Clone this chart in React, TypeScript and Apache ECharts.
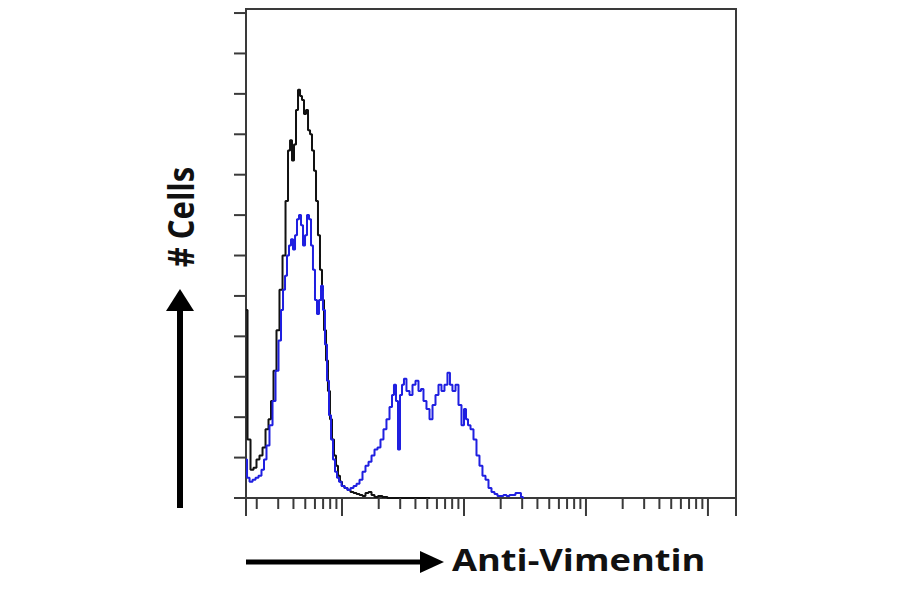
import React, { useEffect, useRef } from "react";
import * as echarts from "echarts";

// x values are log10(fluorescence intensity); y values are cell counts
const X_MIN = 0.213;
const X_MAX = 4.23;
const Y_MAX = 242;
const Y_TICKS = [0, 20, 40, 60, 80, 100, 120, 140, 160, 180, 200, 220, 240];
const X_DECADES = [0, 1, 2, 3, 4];

const controlX = [0.213, 0.238, 0.262, 0.287, 0.311, 0.336, 0.361, 0.385, 0.41, 0.426, 0.451, 0.475, 0.5, 0.525, 0.549, 0.566, 0.582, 0.598, 0.615, 0.631, 0.648, 0.664, 0.68, 0.697, 0.713, 0.73, 0.746, 0.762, 0.779, 0.795, 0.811, 0.828, 0.844, 0.861, 0.877, 0.893, 0.91, 0.926, 0.943, 0.959, 0.975, 0.992, 1.008, 1.033, 1.057, 1.082, 1.107, 1.131, 1.156, 1.18, 1.205, 1.23, 1.254, 1.279, 1.311, 1.352, 1.393, 1.721];
const controlY = [93, 29, 14, 15, 19, 21, 25, 34, 39, 48, 63, 83, 103, 120, 147, 172, 177, 167, 175, 192, 202, 199, 197, 190, 192, 182, 180, 172, 162, 147, 130, 113, 98, 83, 68, 53, 39, 29, 21, 16, 11, 8, 6, 5, 4, 3, 2.5, 2, 1.5, 1, 2.5, 3, 1.5, 0.5, 1, 0.5, 0, 0];

const vimentinX = [0.213, 0.23, 0.254, 0.279, 0.303, 0.328, 0.352, 0.369, 0.393, 0.418, 0.443, 0.467, 0.492, 0.508, 0.525, 0.541, 0.557, 0.574, 0.59, 0.607, 0.623, 0.639, 0.656, 0.672, 0.689, 0.705, 0.721, 0.738, 0.754, 0.77, 0.787, 0.803, 0.82, 0.836, 0.852, 0.869, 0.885, 0.902, 0.918, 0.934, 0.951, 0.967, 0.984, 1.008, 1.033, 1.057, 1.082, 1.107, 1.131, 1.156, 1.18, 1.205, 1.23, 1.254, 1.279, 1.303, 1.328, 1.352, 1.377, 1.402, 1.418, 1.434, 1.451, 1.467, 1.484, 1.5, 1.516, 1.541, 1.566, 1.59, 1.615, 1.639, 1.656, 1.68, 1.705, 1.73, 1.754, 1.779, 1.803, 1.828, 1.852, 1.877, 1.893, 1.918, 1.943, 1.967, 1.992, 2.008, 2.025, 2.041, 2.066, 2.09, 2.115, 2.139, 2.164, 2.189, 2.213, 2.238, 2.262, 2.287, 2.311, 2.336, 2.361, 2.385, 2.41, 2.434, 2.459, 2.475, 2.492];
const vimentinY = [19, 10, 8, 9, 10, 11, 14, 19, 26, 36, 48, 63, 78, 93, 103, 110, 120, 125, 128, 123, 130, 138, 140, 135, 125, 130, 140, 138, 125, 113, 98, 91, 98, 105, 93, 76, 58, 41, 29, 19, 13, 10, 8, 6, 5, 4, 5, 6, 7, 9, 13, 16, 18, 21, 24, 25, 29, 34, 39, 45, 51, 56, 48, 24, 51, 56, 59, 53, 51, 56, 58, 53, 54, 48, 44, 39, 46, 51, 56, 53, 56, 62, 56, 53, 56, 46, 36, 44, 39, 36, 34, 29, 21, 16, 11, 9, 5, 3, 2, 1, 1, 1.5, 1, 1.5, 1.5, 2.5, 2.5, 0.5, 0];

const INK = "#111111";
const FRAME = "#3a3a3a";

function buildXTicks() {
  const ticks: number[][] = [];
  ticks.push([X_MIN, 0, 1]);
  ticks.push([X_MAX, 0, 1]);
  X_DECADES.forEach((d) => {
    if (d >= X_MIN && d <= X_MAX) ticks.push([d, 0, 1]);
    for (let k = 2; k <= 9; k++) {
      const v = d + Math.log10(k);
      if (v > X_MIN && v < X_MAX) ticks.push([v, 0, 0]);
    }
  });
  return ticks;
}

export default function App() {
  const ref = useRef<HTMLDivElement>(null);
  useEffect(() => {
    if (!ref.current) return;
    const chart = echarts.init(ref.current, undefined, { renderer: "svg" });
    const zip = (xs: number[], ys: number[]) => xs.map((x, i) => [x, ys[i]]);
    chart.setOption({
      animation: false,
      backgroundColor: "#ffffff",
      grid: {
        left: 246,
        right: 164,
        top: 9,
        bottom: 96,
        show: true,
        borderColor: FRAME,
        borderWidth: 2,
        backgroundColor: "transparent",
      },
      xAxis: {
        type: "value",
        min: X_MIN,
        max: X_MAX,
        axisLine: { show: false },
        axisTick: { show: false },
        axisLabel: { show: false },
        splitLine: { show: false },
      },
      yAxis: {
        type: "value",
        min: 0,
        max: Y_MAX,
        axisLine: { show: false },
        axisTick: { show: false },
        axisLabel: { show: false },
        splitLine: { show: false },
      },
      series: [
        {
          name: "Control",
          type: "line",
          data: zip(controlX, controlY),
          step: "middle",
          symbol: "none",
          lineStyle: { color: INK, width: 2 },
          z: 3,
        },
        {
          name: "Anti-Vimentin",
          type: "line",
          data: zip(vimentinX, vimentinY),
          step: "middle",
          symbol: "none",
          lineStyle: { color: "#1f1fe0", width: 2 },
          z: 4,
        },
        {
          name: "xticks",
          type: "custom",
          data: buildXTicks(),
          clip: false,
          silent: true,
          z: 5,
          renderItem: (params: any, api: any) => {
            const p = api.coord([api.value(0), api.value(1)]);
            const major = api.value(2) === 1;
            return {
              type: "line",
              shape: { x1: p[0], y1: p[1], x2: p[0], y2: p[1] + (major ? 18 : 11) },
              style: { stroke: FRAME, lineWidth: 2 },
            };
          },
        },
        {
          name: "yticks",
          type: "custom",
          data: Y_TICKS.map((v) => [X_MIN, v]),
          clip: false,
          silent: true,
          z: 5,
          renderItem: (params: any, api: any) => {
            const p = api.coord([api.value(0), api.value(1)]);
            return {
              type: "line",
              shape: { x1: p[0] - 12, y1: p[1], x2: p[0], y2: p[1] },
              style: { stroke: FRAME, lineWidth: 2 },
            };
          },
        },
      ],
      graphic: [
        {
          type: "line",
          shape: { x1: 246, y1: 562, x2: 426, y2: 562 },
          style: { stroke: "#000", lineWidth: 5 },
        },
        {
          type: "polygon",
          shape: { points: [[420, 551], [444, 562], [420, 573]] },
          style: { fill: "#000" },
        },
        {
          type: "line",
          shape: { x1: 180, y1: 508, x2: 180, y2: 306 },
          style: { stroke: "#000", lineWidth: 6 },
        },
        {
          type: "polygon",
          shape: { points: [[166, 311], [180, 289], [194, 311]] },
          style: { fill: "#000" },
        },
        {
          type: "text",
          x: 452,
          y: 559,
          scaleX: 1.17,
          style: {
            text: "Anti-Vimentin",
            font: "bold 31px 'Open Sans'",
            fill: INK,
            align: "left",
            verticalAlign: "middle",
          },
        },
        {
          type: "text",
          x: 180,
          y: 217,
          rotation: Math.PI / 2,
          scaleY: 1.15,
          style: {
            text: "# Cells",
            font: "bold 31px 'Open Sans'",
            fill: INK,
            align: "center",
            verticalAlign: "middle",
          },
        },
      ],
    });
    return () => chart.dispose();
  }, []);
  return (
    <div
      ref={ref}
      style={{ position: "fixed", left: 0, top: 0, width: 900, height: 594 }}
    />
  );
}
